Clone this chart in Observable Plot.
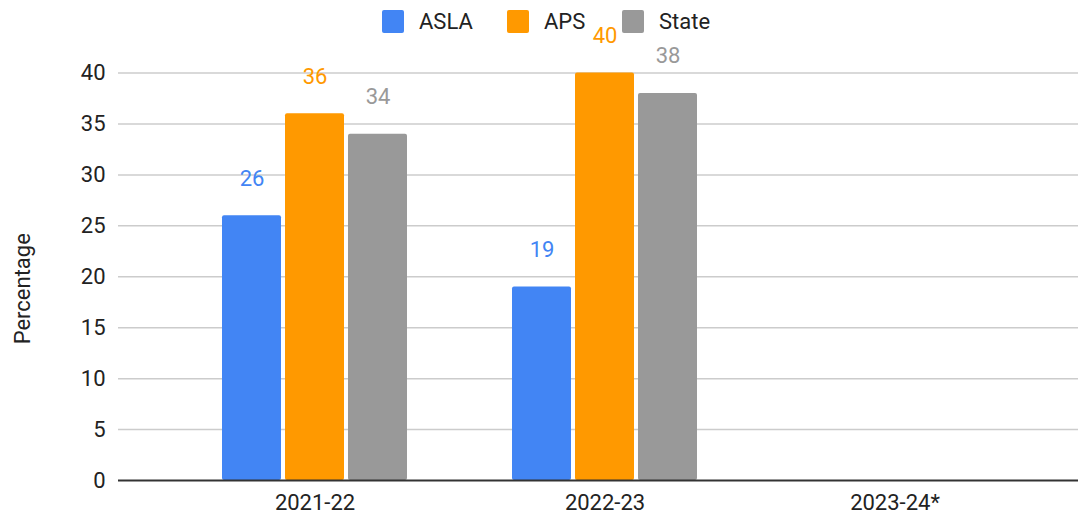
<!DOCTYPE html>
<html>
<head>
<meta charset="utf-8">
<script src="https://cdn.jsdelivr.net/npm/d3@7"></script>
<script src="https://cdn.jsdelivr.net/npm/@observablehq/plot@0.6"></script>
<style>
  html, body { margin: 0; padding: 0; background: #fff; }
  body { font-family: Roboto, "Liberation Sans", sans-serif; color: #222; width: 1078px; }
  #legend { position: relative; height: 44px; font-size: 22px; z-index: 0; }
  #legend .item { position: absolute; top: 10px; display: flex; align-items: center; height: 23px; }
  #legend .swatch { width: 22px; height: 23px; border-radius: 2px; margin-right: 15px; }
  #chart { position: relative; z-index: 1; }
  #chart svg { display: block; overflow: visible; }
</style>
</head>
<body>
<div id="legend"></div>
<div id="chart"></div>
<script>
// School years on the x axis
const years = ["2021-22", "2022-23", "2023-24*"];
// Series names and colours
const seriesNames = ["ASLA", "APS", "State"];
const seriesColors = ["#4285f4", "#ff9900", "#999999"];
// Percentages per school year (no data yet for 2023-24)
const aslaValues = [26, 19, null];
const apsValues = [36, 40, null];
const stateValues = [34, 38, null];
// Y axis ticks
const yTicks = [0, 5, 10, 15, 20, 25, 30, 35, 40];

const valuesBySeries = [aslaValues, apsValues, stateValues];
const rows = seriesNames.map((name, i) =>
  years.map((year, j) => ({year, series: name, value: valuesBySeries[i][j]}))
    .filter(d => d.value != null)
);

// Legend
const legend = document.getElementById("legend");
const legendLeft = [382, 507, 622];
seriesNames.forEach((name, i) => {
  const item = document.createElement("div");
  item.className = "item";
  item.style.left = legendLeft[i] + "px";
  const sw = document.createElement("div");
  sw.className = "swatch";
  sw.style.background = seriesColors[i];
  const label = document.createElement("span");
  label.textContent = name;
  item.append(sw, label);
  legend.append(item);
});

const groupOffsets = [-63, 0, 63];

const marks = [
  Plot.ruleY(yTicks.filter(t => t > 0), {stroke: "#cccccc", strokeWidth: 1.5}),
];
rows.forEach((data, i) => {
  marks.push(Plot.barY(data, {
    x: "year", y: "value", fill: seriesColors[i], dx: groupOffsets[i], rx: 2
  }));
});
marks.push(Plot.ruleY([0], {stroke: "#333333", strokeWidth: 2}));
rows.forEach((data, i) => {
  marks.push(Plot.text(data, {
    x: "year", y: "value", text: d => String(d.value), fill: seriesColors[i],
    dx: groupOffsets[i], dy: -37, fontSize: 22, lineAnchor: "middle"
  }));
});
marks.push(
  Plot.axisY({ticks: yTicks, tickSize: 0, tickPadding: 13, fontSize: 22, label: null}),
  Plot.axisX({tickSize: 0, tickPadding: 14, fontSize: 22, label: null}),
  Plot.text(["Percentage"], {
    text: d => d, frameAnchor: "left", rotate: -90, dx: -96, dy: 12,
    fontSize: 22, textAnchor: "middle", lineAnchor: "middle", fill: "#222"
  })
);

const chart = Plot.plot({
  width: 1078,
  height: 474,
  marginLeft: 118,
  marginRight: 0,
  marginTop: 28.5,
  marginBottom: 38,
  style: {fontFamily: "Roboto, 'Liberation Sans', sans-serif", fontSize: "22px", color: "#222", background: "transparent", overflow: "visible"},
  x: {domain: years, range: [168.75, 1040.25], paddingInner: 0.797, paddingOuter: 0.3985},
  y: {domain: [0, 40]},
  marks
});
document.getElementById("chart").append(chart);
</script>
</body>
</html>
